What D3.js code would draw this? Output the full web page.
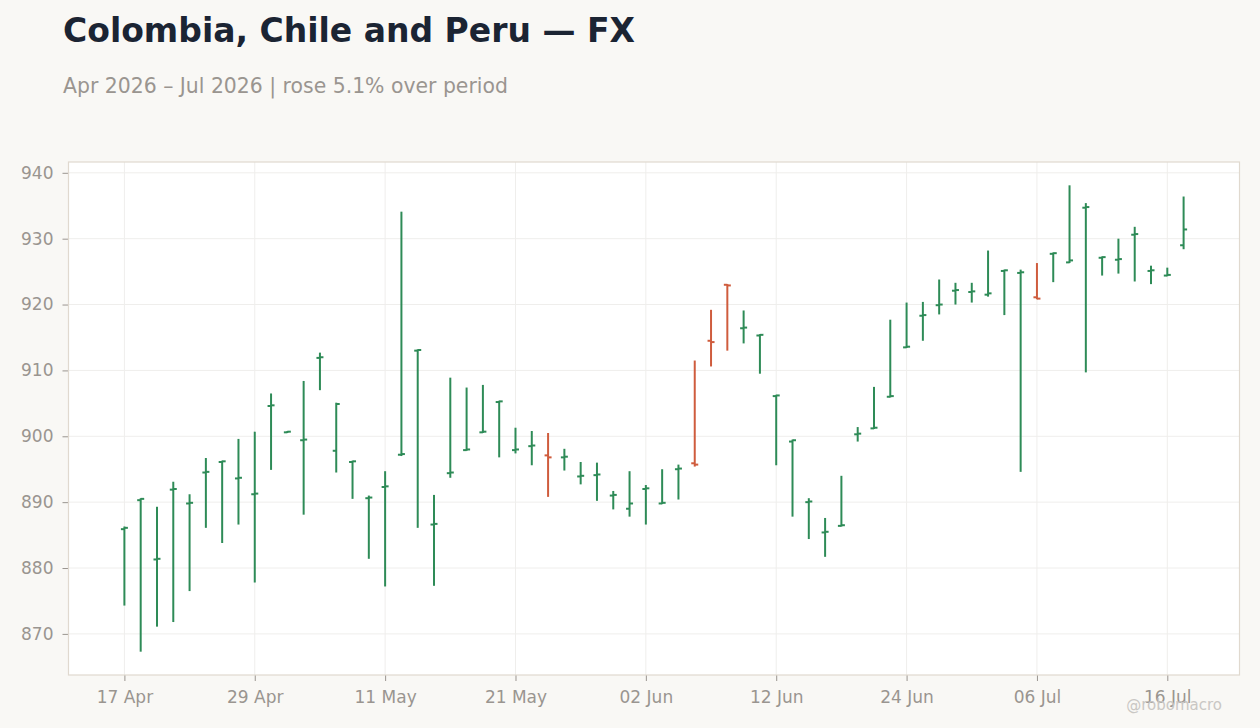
<!DOCTYPE html>
<html>
<head>
<meta charset="utf-8">
<script src="https://cdn.jsdelivr.net/npm/d3@7"></script>
<style>
  body { margin: 0; background: #f9f8f5; }
  svg { display: block; font-family: "DejaVu Sans", sans-serif; }
</style>
</head>
<body>
<div id="chart"></div>
<script>
// trading days, 17 Apr – 17 Jul 2026
const dates = [
  "2026-04-17", "2026-04-20", "2026-04-21", "2026-04-22", "2026-04-23", "2026-04-24",
  "2026-04-27", "2026-04-28", "2026-04-29", "2026-04-30", "2026-05-01",
  "2026-05-04", "2026-05-05", "2026-05-06", "2026-05-07", "2026-05-08",
  "2026-05-11", "2026-05-12", "2026-05-13", "2026-05-14", "2026-05-15",
  "2026-05-18", "2026-05-19", "2026-05-20", "2026-05-21", "2026-05-22",
  "2026-05-25", "2026-05-26", "2026-05-27", "2026-05-28", "2026-05-29",
  "2026-06-01", "2026-06-02", "2026-06-03", "2026-06-04", "2026-06-05",
  "2026-06-08", "2026-06-09", "2026-06-10", "2026-06-11", "2026-06-12",
  "2026-06-15", "2026-06-16", "2026-06-17", "2026-06-18", "2026-06-19",
  "2026-06-22", "2026-06-23", "2026-06-24", "2026-06-25", "2026-06-26",
  "2026-06-29", "2026-06-30", "2026-07-01", "2026-07-02", "2026-07-03",
  "2026-07-06", "2026-07-07", "2026-07-08", "2026-07-09", "2026-07-10",
  "2026-07-13", "2026-07-14", "2026-07-15", "2026-07-16", "2026-07-17"
];
const open = [
  885.9, 890.3, 881.3, 891.9, 889.8, 894.5, 896.1, 893.6, 891.2, 904.6,
  900.6, 899.4, 911.9, 897.8, 896.1, 890.6, 892.3, 897.2, 913.0, 886.6,
  894.4, 897.9, 900.6, 905.2, 897.9, 898.5, 897.1, 896.8, 893.9, 894.1,
  891.0, 889.0, 892.0, 889.8, 895.0, 895.9, 914.5, 923.0, 916.4, 915.3,
  906.1, 899.2, 890.0, 885.4, 886.4, 900.3, 901.2, 906.0, 913.5, 918.3,
  919.9, 922.1, 921.9, 921.5, 925.1, 924.8, 921.1, 927.7, 926.4, 934.7,
  927.1, 926.8, 930.6, 925.1, 924.4, 929.0
];
const high = [
  886.3, 890.6, 889.3, 893.1, 891.2, 896.7, 896.3, 899.6, 900.7, 906.5,
  900.8, 908.4, 912.7, 905.1, 896.3, 891.0, 894.7, 934.1, 913.2, 891.1,
  908.9, 907.4, 907.8, 905.4, 901.3, 900.8, 900.5, 898.1, 896.1, 896.0,
  891.7, 894.7, 892.6, 895.0, 895.7, 911.5, 919.2, 923.1, 919.1, 915.5,
  906.3, 899.5, 890.6, 887.6, 894.0, 901.4, 907.5, 917.7, 920.3, 920.4,
  923.8, 923.3, 923.3, 928.2, 925.3, 925.3, 926.3, 927.9, 938.1, 935.4,
  927.3, 930.0, 931.8, 925.9, 925.6, 936.4
];
const low = [
  874.3, 867.3, 871.1, 871.8, 876.5, 886.1, 883.8, 886.6, 877.8, 894.9,
  900.5, 888.1, 907.0, 894.5, 890.5, 881.4, 877.2, 897.0, 886.1, 877.3,
  893.7, 897.8, 900.5, 896.8, 897.4, 895.6, 890.8, 894.8, 892.7, 890.2,
  888.9, 887.8, 886.6, 889.7, 890.4, 895.4, 910.6, 913.0, 914.1, 909.5,
  895.6, 887.8, 884.4, 881.7, 886.3, 899.2, 901.1, 905.9, 913.4, 914.5,
  918.5, 920.0, 920.3, 921.2, 918.4, 894.6, 920.8, 923.4, 926.3, 909.7,
  924.4, 924.7, 923.5, 923.1, 924.3, 928.4
];
const close = [
  886.1, 890.5, 881.4, 892.0, 889.9, 894.6, 896.2, 893.7, 891.3, 904.7,
  900.7, 899.5, 912.0, 904.9, 896.2, 890.7, 892.4, 897.3, 913.1, 886.7,
  894.5, 898.0, 900.7, 905.3, 898.0, 898.6, 896.8, 896.9, 894.0, 894.2,
  891.1, 889.8, 892.1, 889.9, 895.1, 895.7, 914.3, 922.9, 916.5, 915.4,
  906.2, 899.4, 890.1, 885.5, 886.5, 900.4, 901.3, 906.1, 913.6, 918.4,
  920.0, 922.2, 922.0, 921.7, 925.2, 924.9, 920.9, 927.8, 926.7, 934.8,
  927.2, 926.9, 930.7, 925.2, 924.5, 931.4
];
const yTicks = [870, 880, 890, 900, 910, 920, 930, 940];

const W = 1260, H = 728;
const plot = { left: 68.5, top: 162, right: 1239.5, bottom: 675 };
const UP = "#2e8b57", DOWN = "#cf5c3d";

const parse = d3.timeParse("%Y-%m-%d");
const bars = dates.map((d, i) => ({
  i, date: parse(d), o: open[i], h: high[i], l: low[i], c: close[i]
}));

const svg = d3.select("#chart").append("svg")
  .attr("width", W).attr("height", H);

svg.append("rect").attr("width", W).attr("height", H).attr("fill", "#f9f8f5");

// title + subtitle
svg.append("text")
  .attr("x", 63).attr("y", 42)
  .attr("fill", "#1b2433")
  .style("font-size", "33px").style("font-weight", "bold")
  .text("Colombia, Chile and Peru — FX");

svg.append("text")
  .attr("x", 63).attr("y", 93)
  .attr("fill", "#9a9590")
  .style("font-size", "20.4px")
  .text("Apr 2026 – Jul 2026 | rose 5.1% over period");

// scales
const x = d3.scalePoint()
  .domain(bars.map(b => b.i))
  .range([plot.left, plot.right])
  .padding(3.43);

const lo = d3.min(low), hi = d3.max(high);
const pad = (hi - lo) * 0.05;
const y = d3.scaleLinear()
  .domain([lo - pad, hi + pad])
  .range([plot.bottom, plot.top]);

const xTickIdx = bars.filter(b => b.i % 8 === 0).map(b => b.i);
const fmt = d3.timeFormat("%d %b");

// plot background
svg.append("rect")
  .attr("x", plot.left).attr("y", plot.top)
  .attr("width", plot.right - plot.left).attr("height", plot.bottom - plot.top)
  .attr("fill", "#ffffff");

// grid
const grid = svg.append("g").attr("stroke", "#efeeec").attr("stroke-width", 1);
grid.selectAll(".gy").data(yTicks).join("line")
  .attr("x1", plot.left).attr("x2", plot.right)
  .attr("y1", d => y(d)).attr("y2", d => y(d));
grid.selectAll(".gx").data(xTickIdx).join("line")
  .attr("x1", d => x(d)).attr("x2", d => x(d))
  .attr("y1", plot.top).attr("y2", plot.bottom);

// axes
const yAxis = svg.append("g")
  .attr("transform", `translate(${plot.left},0)`)
  .call(d3.axisLeft(y).tickValues(yTicks).tickSize(6).tickPadding(9));
const xAxis = svg.append("g")
  .attr("transform", `translate(0,${plot.bottom})`)
  .call(d3.axisBottom(x).tickValues(xTickIdx).tickSize(6).tickPadding(10)
    .tickFormat(i => fmt(bars[i].date)));

[yAxis, xAxis].forEach(a => {
  a.select(".domain").remove();
  a.selectAll(".tick line").attr("stroke", "#9a9590");
  a.selectAll(".tick text").attr("fill", "#9a9590")
    .style("font-size", "17px").style("font-family", "DejaVu Sans, sans-serif");
});

// frame
svg.append("rect")
  .attr("x", plot.left).attr("y", plot.top)
  .attr("width", plot.right - plot.left).attr("height", plot.bottom - plot.top)
  .attr("fill", "none").attr("stroke", "#e0d9cf").attr("stroke-width", 1.2);

// OHLC bars
const tw = 3.5;
const g = svg.append("g").attr("stroke-width", 2);
const bar = g.selectAll("g.bar").data(bars).join("g")
  .attr("class", "bar")
  .attr("stroke", d => d.c >= d.o ? UP : DOWN);

bar.append("line")
  .attr("x1", d => x(d.i)).attr("x2", d => x(d.i))
  .attr("y1", d => y(d.h)).attr("y2", d => y(d.l));
bar.append("line")
  .attr("x1", d => x(d.i) - tw).attr("x2", d => x(d.i))
  .attr("y1", d => y(d.o)).attr("y2", d => y(d.o));
bar.append("line")
  .attr("x1", d => x(d.i)).attr("x2", d => x(d.i) + tw)
  .attr("y1", d => y(d.c)).attr("y2", d => y(d.c));

// watermark
svg.append("text")
  .attr("x", 1222).attr("y", 710)
  .attr("text-anchor", "end")
  .attr("fill", "#c9c7c4")
  .style("font-size", "15px")
  .text("@robomacro");
</script>
</body>
</html>
